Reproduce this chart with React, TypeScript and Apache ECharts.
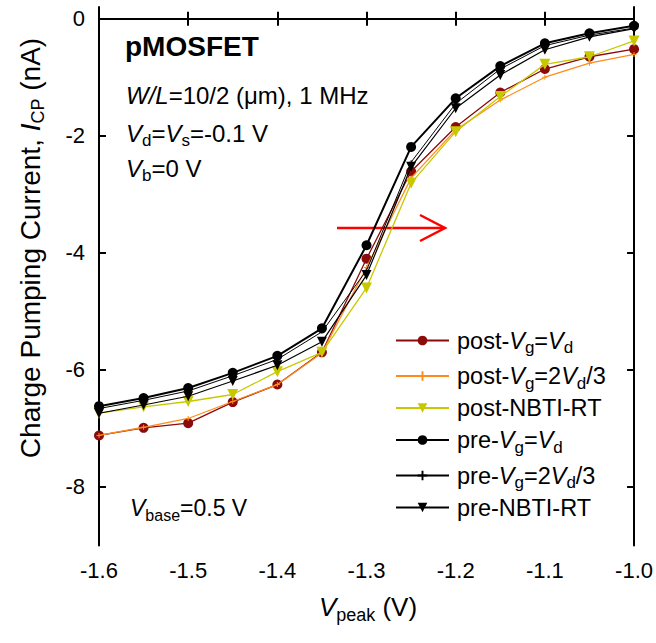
import React, { useEffect, useRef } from "react";
import * as echarts from "echarts";

const xVals = [-1.6, -1.55, -1.5, -1.45, -1.4, -1.35, -1.3, -1.25, -1.2, -1.15, -1.1, -1.05, -1.0];
const postVgVd = [-7.12, -6.99, -6.91, -6.55, -6.25, -5.70, -4.10, -2.61, -1.85, -1.26, -0.86, -0.65, -0.52];
const post2Vd3 = [-7.12, -6.98, -6.83, -6.54, -6.25, -5.71, -4.25, -2.72, -1.90, -1.39, -1.00, -0.76, -0.61];
const postNBTI = [-6.74, -6.63, -6.54, -6.42, -6.03, -5.70, -4.60, -2.81, -1.93, -1.33, -0.78, -0.65, -0.38];
const preVgVd = [-6.62, -6.48, -6.31, -6.05, -5.76, -5.29, -3.87, -2.19, -1.36, -0.81, -0.42, -0.25, -0.12];
const pre2Vd3 = [-6.66, -6.52, -6.36, -6.10, -5.82, -5.35, -4.30, -2.45, -1.45, -0.86, -0.46, -0.28, -0.16];
const preNBTI = [-6.74, -6.60, -6.45, -6.19, -5.92, -5.52, -4.38, -2.53, -1.53, -0.96, -0.53, -0.31, -0.17];

const seriesNames = ["post-Vg=Vd", "post-Vg=2Vd/3", "post-NBTI-RT", "pre-Vg=Vd", "pre-Vg=2Vd/3", "pre-NBTI-RT"];
const legendRich: Record<string, string> = {
  "post-Vg=Vd": "{n|post-}{i|V}{s|g}{n|=}{i|V}{s|d}",
  "post-Vg=2Vd/3": "{n|post-}{i|V}{s|g}{n|=2}{i|V}{s|d}{n|/3}",
  "post-NBTI-RT": "{n|post-NBTI-RT}",
  "pre-Vg=Vd": "{n|pre-}{i|V}{s|g}{n|=}{i|V}{s|d}",
  "pre-Vg=2Vd/3": "{n|pre-}{i|V}{s|g}{n|=2}{i|V}{s|d}{n|/3}",
  "pre-NBTI-RT": "{n|pre-NBTI-RT}",
};
const yTicks = [0, -2, -4, -6, -8];

const FONT = "'Liberation Sans', Arial, sans-serif";
const PLUS = "path://M2,0H3V2H5V3H3V5H2V3H0V2H2Z";

function richStyles(size: number, sub: number, shift: number, lh = 30) {
  return {
    n: { fontSize: size, fontFamily: FONT, color: "#000", lineHeight: lh },
    i: { fontSize: size, fontFamily: FONT, fontStyle: "italic", color: "#000", lineHeight: lh },
    s: { fontSize: sub, fontFamily: FONT, color: "#000", lineHeight: lh - shift * 2, padding: [shift * 2, 0, 0, 0] },
  };
}

export default function App() {
  const ref = useRef<HTMLDivElement>(null);
  useEffect(() => {
    document.body.style.margin = "0";
    const chart = echarts.init(ref.current!, undefined, { renderer: "svg" });
    const zip = (arr: number[]) => xVals.map((x, i) => [x, arr[i]]);
    const styles = [
      { data: postVgVd, color: "#8b0a0a", symbol: "circle", size: 10, width: 1.3, rot: 0 },
      { data: post2Vd3, color: "#ff8c1a", symbol: PLUS, size: 5, width: 1.3, rot: 0 },
      { data: postNBTI, color: "#c8c800", symbol: "triangle", size: 11, width: 1.3, rot: 180 },
      { data: preVgVd, color: "#000000", symbol: "circle", size: 10, width: 2, rot: 0 },
      { data: pre2Vd3, color: "#000000", symbol: PLUS, size: 4, width: 1, rot: 0 },
      { data: preNBTI, color: "#000000", symbol: "triangle", size: 10, width: 1.2, rot: 180 },
    ];
    const axisLine = { show: true, lineStyle: { color: "#000", width: 2 } };
    const tick = { show: true, inside: true, length: 7, lineStyle: { color: "#000", width: 2 } };
    chart.setOption({
      animation: false,
      grid: { left: 99, right: 21, top: 7, bottom: 97.5, containLabel: false },
      xAxis: [
        {
          type: "value", min: -1.6, max: -1.0, interval: 0.1, position: "bottom",
          axisLine, axisTick: tick, splitLine: { show: false },
          axisLabel: { fontSize: 22, fontFamily: FONT, color: "#000", margin: 14, formatter: (v: number) => v.toFixed(1) },
        },
        {
          type: "value", min: -1.6, max: -1.0, interval: 0.1, position: "top",
          axisLine, axisTick: tick, splitLine: { show: false }, axisLabel: { show: false },
        },
      ],
      yAxis: [
        {
          type: "value", min: -9, max: 0.2, position: "left",
          axisLine, axisTick: { ...tick, customValues: yTicks }, splitLine: { show: false },
          axisLabel: { fontSize: 22, fontFamily: FONT, color: "#000", margin: 14, customValues: yTicks, formatter: (v: number) => String(v) },
        },
        {
          type: "value", min: -9, max: 0.2, position: "right",
          axisLine, axisTick: { ...tick, customValues: yTicks }, splitLine: { show: false },
          axisLabel: { show: false, customValues: yTicks },
        },
      ],
      legend: {
        orient: "vertical", left: 390, top: 320, itemWidth: 53, itemHeight: 12, itemGap: 4.5,
        data: seriesNames,
        formatter: (name: string) => legendRich[name],
        textStyle: { fontSize: 23.5, fontFamily: FONT, color: "#000", padding: [0, 0, 0, 3], rich: richStyles(23.5, 17, 7, 30) },
        selectedMode: false,
      },
      series: styles.map((s, i) => ({
        type: "line", name: seriesNames[i], data: zip(s.data),
        symbol: s.symbol, symbolSize: s.size, symbolRotate: s.rot, showSymbol: true,
        lineStyle: { color: s.color, width: s.width },
        itemStyle: { color: s.color, borderWidth: 0 },
        emphasis: { disabled: true }, silent: true, z: 2 + i,
      })),
      graphic: [
        { type: "text", x: 125, y: 46, style: { text: "pMOSFET", font: `bold 28px ${FONT}`, fill: "#000", verticalAlign: "middle", align: "left" } },
        { type: "text", x: 126, y: 95, style: { text: "{i|W/L}{n|=10/2 (μm), 1 MHz}", rich: richStyles(24, 17, 7), verticalAlign: "middle", align: "left" } },
        { type: "text", x: 126, y: 133, style: { text: "{i|V}{s|d}{n|=}{i|V}{s|s}{n|=-0.1 V}", rich: richStyles(24, 17, 7), verticalAlign: "middle", align: "left" } },
        { type: "text", x: 126, y: 168, style: { text: "{i|V}{s|b}{n|=0 V}", rich: richStyles(24, 17, 7), verticalAlign: "middle", align: "left" } },
        { type: "text", x: 130, y: 508, style: { text: "{i|V}{s|base}{n|=0.5 V}", rich: richStyles(23, 16, 7), verticalAlign: "middle", align: "left" } },
        { type: "text", x: 368, y: 607, style: { text: "{i|V}{s|peak}{n| (V)}", rich: richStyles(26, 18, 8, 34), verticalAlign: "middle", align: "center" } },
        { type: "text", x: 30, y: 248, rotation: Math.PI / 2, style: { text: "{n|Charge Pumping Current, }{i|I}{s|CP}{n| (nA)}", rich: richStyles(28, 18, 8, 34), verticalAlign: "middle", align: "center" } },
        { type: "line", shape: { x1: 337, y1: 228, x2: 445, y2: 228 }, style: { stroke: "#ff0000", lineWidth: 2.5 } },
        { type: "polyline", shape: { points: [[420, 215], [445, 228], [420, 241]] }, style: { stroke: "#ff0000", lineWidth: 2.5, fill: "none" } },
      ],
    });
    return () => chart.dispose();
  }, []);
  return <div ref={ref} style={{ width: 656, height: 643 }} />;
}
